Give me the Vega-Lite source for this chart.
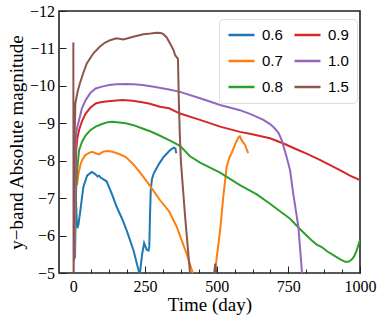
{
  "$schema": "https://vega.github.io/schema/vega-lite/v6.json",
  "width": 301,
  "height": 262,
  "autosize": {"type": "none"},
  "padding": {"left": 59, "top": 11, "right": 21, "bottom": 47},
  "config": {
    "view": {"stroke": "#222", "strokeWidth": 1.6},
    "axis": {"labelFont": "Liberation Serif", "titleFont": "Liberation Serif", "labelFontSize": 16, "titleFontSize": 19, "titleFontWeight": "normal", "labelColor": "#000", "titleColor": "#000", "tickColor": "#222", "domain": false, "grid": false, "labelOverlap": false, "labelFlush": false}
  },
  "data": {"values": [
    {"s":"0.6","t":3,"m":-5.35},{"s":"0.6","t":8,"m":-7.2},{"s":"0.6","t":12,"m":-6.4},{"s":"0.6","t":14,"m":-6.2},{"s":"0.6","t":18,"m":-6.3},{"s":"0.6","t":25,"m":-6.7},{"s":"0.6","t":35,"m":-7.3},{"s":"0.6","t":48,"m":-7.6},{"s":"0.6","t":64,"m":-7.7},{"s":"0.6","t":75,"m":-7.65},{"s":"0.6","t":85,"m":-7.58},{"s":"0.6","t":90,"m":-7.6},{"s":"0.6","t":95,"m":-7.55},{"s":"0.6","t":116,"m":-7.45},{"s":"0.6","t":135,"m":-7.1},{"s":"0.6","t":151,"m":-6.77},{"s":"0.6","t":170,"m":-6.45},{"s":"0.6","t":186,"m":-6.14},{"s":"0.6","t":210,"m":-5.6},{"s":"0.6","t":229,"m":-5.03},{"s":"0.6","t":232,"m":-4.98},{"s":"0.6","t":240,"m":-5.5},{"s":"0.6","t":247,"m":-5.8},{"s":"0.6","t":252,"m":-5.7},{"s":"0.6","t":256,"m":-5.62},{"s":"0.6","t":262,"m":-5.6},{"s":"0.6","t":265,"m":-5.7},{"s":"0.6","t":267,"m":-6.4},{"s":"0.6","t":270,"m":-7.2},{"s":"0.6","t":274,"m":-7.5},{"s":"0.6","t":280,"m":-7.65},{"s":"0.6","t":287,"m":-7.75},{"s":"0.6","t":300,"m":-7.93},{"s":"0.6","t":315,"m":-8.1},{"s":"0.6","t":337,"m":-8.28},{"s":"0.6","t":350,"m":-8.35},{"s":"0.6","t":356,"m":-8.33},{"s":"0.6","t":359,"m":-8.2},
    {"s":"0.7","t":13,"m":-7.35},{"s":"0.7","t":18,"m":-7.66},{"s":"0.7","t":25,"m":-7.9},{"s":"0.7","t":31,"m":-8.02},{"s":"0.7","t":42,"m":-8.15},{"s":"0.7","t":55,"m":-8.21},{"s":"0.7","t":65,"m":-8.24},{"s":"0.7","t":78,"m":-8.2},{"s":"0.7","t":90,"m":-8.17},{"s":"0.7","t":100,"m":-8.22},{"s":"0.7","t":107,"m":-8.25},{"s":"0.7","t":120,"m":-8.26},{"s":"0.7","t":136,"m":-8.24},{"s":"0.7","t":160,"m":-8.18},{"s":"0.7","t":183,"m":-8.1},{"s":"0.7","t":210,"m":-7.9},{"s":"0.7","t":241,"m":-7.6},{"s":"0.7","t":270,"m":-7.3},{"s":"0.7","t":302,"m":-6.95},{"s":"0.7","t":334,"m":-6.65},{"s":"0.7","t":361,"m":-6.23},{"s":"0.7","t":395,"m":-5.52},{"s":"0.7","t":418,"m":-4.97},{"s":"0.7","t":425,"m":-4.8},{"s":"0.7","t":488,"m":-4.8},{"s":"0.7","t":494,"m":-5.0},{"s":"0.7","t":500,"m":-5.4},{"s":"0.7","t":512,"m":-6.14},{"s":"0.7","t":523,"m":-7.03},{"s":"0.7","t":535,"m":-7.84},{"s":"0.7","t":545,"m":-8.1},{"s":"0.7","t":552,"m":-8.2},{"s":"0.7","t":565,"m":-8.45},{"s":"0.7","t":576,"m":-8.62},{"s":"0.7","t":581,"m":-8.65},{"s":"0.7","t":587,"m":-8.55},{"s":"0.7","t":599,"m":-8.42},{"s":"0.7","t":605,"m":-8.3},{"s":"0.7","t":610,"m":-8.2},
    {"s":"0.8","t":6,"m":-5.4},{"s":"0.8","t":8,"m":-6.5},{"s":"0.8","t":10,"m":-7.3},{"s":"0.8","t":14,"m":-7.8},{"s":"0.8","t":20,"m":-8.28},{"s":"0.8","t":30,"m":-8.5},{"s":"0.8","t":43,"m":-8.68},{"s":"0.8","t":60,"m":-8.82},{"s":"0.8","t":78,"m":-8.91},{"s":"0.8","t":100,"m":-8.98},{"s":"0.8","t":120,"m":-9.03},{"s":"0.8","t":136,"m":-9.04},{"s":"0.8","t":160,"m":-9.02},{"s":"0.8","t":183,"m":-9.0},{"s":"0.8","t":210,"m":-8.95},{"s":"0.8","t":241,"m":-8.86},{"s":"0.8","t":270,"m":-8.78},{"s":"0.8","t":299,"m":-8.68},{"s":"0.8","t":334,"m":-8.55},{"s":"0.8","t":372,"m":-8.4},{"s":"0.8","t":407,"m":-8.12},{"s":"0.8","t":442,"m":-7.95},{"s":"0.8","t":512,"m":-7.68},{"s":"0.8","t":581,"m":-7.35},{"s":"0.8","t":640,"m":-7.1},{"s":"0.8","t":686,"m":-6.85},{"s":"0.8","t":756,"m":-6.45},{"s":"0.8","t":791,"m":-6.17},{"s":"0.8","t":830,"m":-5.88},{"s":"0.8","t":849,"m":-5.76},{"s":"0.8","t":865,"m":-5.7},{"s":"0.8","t":872,"m":-5.66},{"s":"0.8","t":885,"m":-5.58},{"s":"0.8","t":907,"m":-5.48},{"s":"0.8","t":930,"m":-5.37},{"s":"0.8","t":948,"m":-5.3},{"s":"0.8","t":960,"m":-5.3},{"s":"0.8","t":971,"m":-5.36},{"s":"0.8","t":980,"m":-5.45},{"s":"0.8","t":988,"m":-5.6},{"s":"0.8","t":1000,"m":-5.88},
    {"s":"0.9","t":5,"m":-5.4},{"s":"0.9","t":7,"m":-7.3},{"s":"0.9","t":10,"m":-8.28},{"s":"0.9","t":14,"m":-8.6},{"s":"0.9","t":20,"m":-8.82},{"s":"0.9","t":30,"m":-9.05},{"s":"0.9","t":43,"m":-9.26},{"s":"0.9","t":60,"m":-9.42},{"s":"0.9","t":78,"m":-9.53},{"s":"0.9","t":95,"m":-9.56},{"s":"0.9","t":113,"m":-9.58},{"s":"0.9","t":140,"m":-9.6},{"s":"0.9","t":171,"m":-9.62},{"s":"0.9","t":206,"m":-9.6},{"s":"0.9","t":235,"m":-9.57},{"s":"0.9","t":264,"m":-9.53},{"s":"0.9","t":302,"m":-9.44},{"s":"0.9","t":334,"m":-9.4},{"s":"0.9","t":372,"m":-9.26},{"s":"0.9","t":442,"m":-9.09},{"s":"0.9","t":512,"m":-8.91},{"s":"0.9","t":581,"m":-8.77},{"s":"0.9","t":616,"m":-8.72},{"s":"0.9","t":651,"m":-8.66},{"s":"0.9","t":686,"m":-8.6},{"s":"0.9","t":733,"m":-8.46},{"s":"0.9","t":780,"m":-8.3},{"s":"0.9","t":814,"m":-8.19},{"s":"0.9","t":860,"m":-8.02},{"s":"0.9","t":884,"m":-7.93},{"s":"0.9","t":930,"m":-7.75},{"s":"0.9","t":965,"m":-7.6},{"s":"0.9","t":1000,"m":-7.48},
    {"s":"1.0","t":5,"m":-5.4},{"s":"1.0","t":7,"m":-7.5},{"s":"1.0","t":8,"m":-8.55},{"s":"1.0","t":12,"m":-8.85},{"s":"1.0","t":20,"m":-9.09},{"s":"1.0","t":30,"m":-9.4},{"s":"1.0","t":43,"m":-9.62},{"s":"1.0","t":60,"m":-9.82},{"s":"1.0","t":78,"m":-9.93},{"s":"1.0","t":100,"m":-9.98},{"s":"1.0","t":125,"m":-10.02},{"s":"1.0","t":150,"m":-10.04},{"s":"1.0","t":183,"m":-10.05},{"s":"1.0","t":210,"m":-10.04},{"s":"1.0","t":241,"m":-10.02},{"s":"1.0","t":270,"m":-9.99},{"s":"1.0","t":300,"m":-9.95},{"s":"1.0","t":334,"m":-9.9},{"s":"1.0","t":372,"m":-9.84},{"s":"1.0","t":442,"m":-9.67},{"s":"1.0","t":512,"m":-9.49},{"s":"1.0","t":581,"m":-9.35},{"s":"1.0","t":616,"m":-9.25},{"s":"1.0","t":640,"m":-9.17},{"s":"1.0","t":663,"m":-9.09},{"s":"1.0","t":686,"m":-8.98},{"s":"1.0","t":698,"m":-8.9},{"s":"1.0","t":715,"m":-8.75},{"s":"1.0","t":727,"m":-8.55},{"s":"1.0","t":744,"m":-8.1},{"s":"1.0","t":756,"m":-7.75},{"s":"1.0","t":767,"m":-7.13},{"s":"1.0","t":785,"m":-6.23},{"s":"1.0","t":797,"m":-5.07},{"s":"1.0","t":800,"m":-4.9},
    {"s":"1.5","t":0,"m":-11.16},{"s":"1.5","t":1,"m":-4.8},{"s":"1.5","t":4,"m":-8.5},{"s":"1.5","t":7,"m":-9.53},{"s":"1.5","t":15,"m":-9.85},{"s":"1.5","t":23,"m":-10.07},{"s":"1.5","t":35,"m":-10.35},{"s":"1.5","t":47,"m":-10.6},{"s":"1.5","t":70,"m":-10.87},{"s":"1.5","t":93,"m":-11.05},{"s":"1.5","t":110,"m":-11.15},{"s":"1.5","t":128,"m":-11.22},{"s":"1.5","t":151,"m":-11.27},{"s":"1.5","t":174,"m":-11.24},{"s":"1.5","t":190,"m":-11.27},{"s":"1.5","t":209,"m":-11.31},{"s":"1.5","t":244,"m":-11.38},{"s":"1.5","t":270,"m":-11.4},{"s":"1.5","t":291,"m":-11.42},{"s":"1.5","t":305,"m":-11.41},{"s":"1.5","t":314,"m":-11.38},{"s":"1.5","t":325,"m":-11.3},{"s":"1.5","t":337,"m":-11.14},{"s":"1.5","t":350,"m":-10.95},{"s":"1.5","t":355,"m":-10.82},{"s":"1.5","t":361,"m":-10.76},{"s":"1.5","t":365,"m":-10.72},{"s":"1.5","t":368,"m":-9.6},{"s":"1.5","t":371,"m":-8.8},{"s":"1.5","t":375,"m":-8.0},{"s":"1.5","t":390,"m":-6.5},{"s":"1.5","t":407,"m":-5.0},{"s":"1.5","t":450,"m":-4.0},{"s":"1.5","t":490,"m":-4.9},{"s":"1.5","t":495,"m":-5.25},{"s":"1.5","t":500,"m":-4.9},{"s":"1.5","t":520,"m":-4.0}
  ]},
  "mark": {"type": "line", "clip": true, "strokeWidth": 2},
  "encoding": {
    "x": {"field": "t", "type": "quantitative", "title": "Time (day)",
      "scale": {"domain": [-50, 1000], "nice": false, "zero": false},
      "axis": {"values": [0,62.5,125,187.5,250,312.5,375,437.5,500,562.5,625,687.5,750,812.5,875,937.5,1000], "format": "d", "labelExpr": "datum.value % 250 === 0 ? datum.label : ''", "tickSize": {"condition": {"test": "datum.value % 250 === 0", "value": -7}, "value": -4}, "labelPadding": 12.5, "titlePadding": -2}},
    "y": {"field": "m", "type": "quantitative", "title": "y−band Absolute magnitude",
      "scale": {"domain": [-12, -5], "reverse": true, "nice": false, "zero": false},
      "axis": {"values": [-12,-11.5,-11,-10.5,-10,-9.5,-9,-8.5,-8,-7.5,-7,-6.5,-6,-5.5,-5], "format": "d", "labelExpr": "datum.value % 1 === 0 ? datum.label : ''", "tickSize": {"condition": {"test": "datum.value % 1 === 0", "value": -7}, "value": -4}, "labelPadding": 11.5, "titlePadding": 3}},
    "color": {"field": "s", "type": "nominal",
      "scale": {"domain": ["0.6","0.7","0.8","0.9","1.0","1.5"], "range": ["#1f77b4","#ff7f0e","#2ca02c","#d62728","#9467bd","#8c564b"]},
      "legend": {"title": null, "orient": "none", "legendX": 160, "legendY": 8, "columns": 2, "symbolType": "M-1,0L3,0", "symbolSize": 169, "symbolStrokeWidth": 2.5, "labelFont": "Liberation Sans", "labelFontSize": 15, "labelColor": "#000", "padding": 8, "strokeColor": "#dddddd", "fillColor": "rgba(255,255,255,0.85)", "cornerRadius": 4, "columnPadding": 6, "rowPadding": 10, "labelOffset": 19}}
  }
}
